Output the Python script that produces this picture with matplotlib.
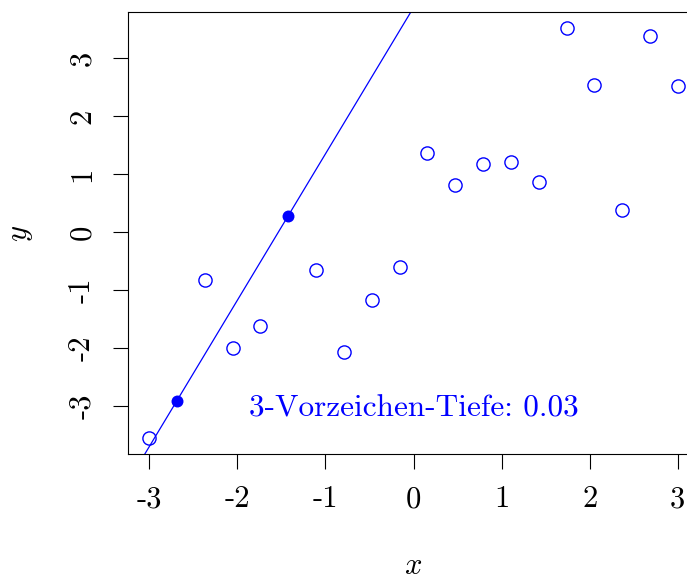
import numpy as np
import matplotlib.pyplot as plt

plt.rcParams['font.family'] = ['cmr10', 'DejaVu Serif']
plt.rcParams['mathtext.fontset'] = 'cm'
plt.rcParams['axes.unicode_minus'] = False

# sample points, evenly spaced x
x = np.linspace(-3, 3, 20)
y = [-3.55, -2.91, -0.82, -2.00, -1.62, 0.285, -0.65, -2.07, -1.17, -0.61,
     1.37, 0.82, 1.18, 1.22, 0.86, 3.52, 2.55, 0.39, 3.38, 2.52]
sel = [1, 5]  # the two points defining the line
depth = 0.03
ticks = [-3, -2, -1, 0, 1, 2, 3]
tick_labels = ['-3', '-2', '-1', '0', '1', '2', '3']

y = np.array(y)
rest = [i for i in range(len(x)) if i not in sel]

fig = plt.figure(figsize=(6.87, 5.79), dpi=100)
ax = fig.add_axes([128/687, 125/579, 571/687, 442/579])

ax.plot(x[rest], y[rest], 'o', mfc='none', mec='blue', ms=9.5, mew=1.0)
ax.plot(x[sel], y[sel], 'o', color='blue', ms=8.6, mew=0)

# line through the two selected points
x1, x2 = x[sel[0]], x[sel[1]]
y1, y2 = y[sel[0]], y[sel[1]]
b = (y2 - y1) / (x2 - x1)
xx = np.array([-4, 4])
ax.plot(xx, y1 + b * (xx - x1), color='blue', lw=0.9)

ax.text(0.0, -3.05, '3-Vorzeichen-Tiefe: %.2f' % depth, color='blue',
        fontsize=22.5, ha='center', va='center')

ymin, ymax = y.min(), y.max()
ax.set_xlim(-3.24, 3.24)
ax.set_ylim(ymin - 0.04 * (ymax - ymin), ymax + 0.04 * (ymax - ymin))

ax.set_xticks(ticks)
ax.set_xticklabels(tick_labels)
ax.set_yticks(ticks)
ax.set_yticklabels(tick_labels, rotation=90, va='center')
ax.tick_params(labelsize=22, length=11, width=0.8, pad=12)
for s in ax.spines.values():
    s.set_linewidth(0.8)

ax.set_xlabel('$x$', fontsize=22, labelpad=28)
ax.set_ylabel('$y$', fontsize=22, labelpad=24)

fig.savefig('out.png', dpi=100)
